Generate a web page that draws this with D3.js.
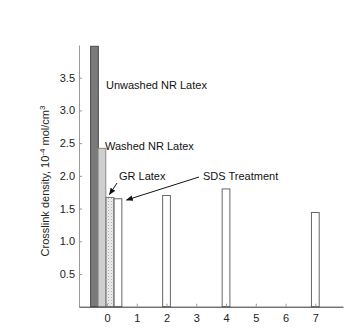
<!DOCTYPE html>
<html><head><meta charset="utf-8">
<script src="https://cdn.jsdelivr.net/npm/d3@7/dist/d3.min.js"></script>
<style>body{margin:0;background:#fff}svg{display:block}text{font-family:"Liberation Sans",Arial,sans-serif}</style>
</head><body><div id="chart"></div>
<script>
const barNames = ["Unwashed NR Latex","Washed NR Latex","GR Latex","SDS 0","SDS 2","SDS 4","SDS 7"];
const barX = [-0.42, -0.17, 0.1, 0.37, 2, 4, 7];
const barValues = [3.98, 2.42, 1.67, 1.65, 1.70, 1.80, 1.44];
const barKinds = ["dark","light","dotted","white","white","white","white"];
const xTicks = [0,1,2,3,4,5,6,7];
const yTicks = [0.5,1.0,1.5,2.0,2.5,3.0,3.5];

const W=356,H=336;
const svg=d3.select("#chart").append("svg").attr("width",W).attr("height",H);
const defs=svg.append("defs");
const pat=defs.append("pattern").attr("id","dots").attr("patternUnits","userSpaceOnUse").attr("width",3).attr("height",3);
pat.append("rect").attr("width",3).attr("height",3).attr("fill","#eeeeee");
pat.append("rect").attr("x",0).attr("y",0).attr("width",1).attr("height",1).attr("fill","#b0b0b0");
pat.append("rect").attr("x",1.5).attr("y",1.5).attr("width",1).attr("height",1).attr("fill","#c8c8c8");

const x=d3.scaleLinear().domain([-0.94,7.93]).range([79,343]);
const y=d3.scaleLinear().domain([0,4]).range([306.7,45]);
const bw=x(0.26)-x(0);

const fills={dark:"#7a7a7a",light:"#cfcfcf",dotted:"url(#dots)",white:"#ffffff"};
const strokes={dark:"#4a4a4a",light:"#888",dotted:"#777",white:"#666"};

svg.selectAll("rect.bar").data(barValues).enter().append("rect").attr("class","bar")
 .attr("x",(d,i)=>x(barX[i])-bw/2).attr("width",bw)
 .attr("y",d=>y(d)).attr("height",d=>y(0)-y(d))
 .attr("fill",(d,i)=>fills[barKinds[i]]).attr("stroke",(d,i)=>strokes[barKinds[i]]).attr("stroke-width",1);

// axes
const ya=svg.append("g").attr("transform","translate(79,0)")
 .call(d3.axisLeft(y).tickValues(yTicks).tickFormat(d3.format(".1f")).tickSizeInner(-3).tickSizeOuter(0).tickPadding(4));
ya.select(".domain").attr("stroke","#999");
ya.selectAll(".tick line").attr("stroke","#999");
ya.selectAll("text").attr("font-size",11).attr("fill","#222");

const xa=svg.append("g").attr("transform","translate(0,306.7)")
 .call(d3.axisBottom(x).tickValues(xTicks).tickFormat(d3.format("d")).tickSizeInner(-3).tickSizeOuter(0).tickPadding(8));
xa.select(".domain").attr("stroke","#333");
xa.selectAll(".tick line").attr("stroke","#999");
xa.selectAll("text").attr("font-size",11).attr("fill","#222");

// y label
const yl=svg.append("text").attr("transform","translate(49,181) rotate(-90)").attr("text-anchor","middle")
 .attr("font-size",11).attr("fill","#222");
yl.append("tspan").text("Crosslink density, 10");
yl.append("tspan").attr("font-size",8).attr("dy",-4).text("-4");
yl.append("tspan").attr("dy",4).text(" mol/cm");
yl.append("tspan").attr("font-size",8).attr("dy",-4).text("3");

// annotations
const ann=svg.append("g").attr("font-size",11).attr("fill","#111");
ann.append("text").attr("x",106).attr("y",89).text(barNames[0]);
ann.append("text").attr("x",105).attr("y",149.5).text(barNames[1]);
ann.append("text").attr("x",119).attr("y",180).text(barNames[2]);
ann.append("text").attr("x",203).attr("y",179.5).text("SDS Treatment");

defs.append("marker").attr("id","ah").attr("viewBox","0 0 10 10").attr("refX",9).attr("refY",5)
 .attr("markerWidth",7).attr("markerHeight",7).attr("orient","auto")
 .append("path").attr("d","M0,1 L10,5 L0,9 Z").attr("fill","#111");
svg.append("line").attr("x1",117).attr("y1",183).attr("x2",109.5).attr("y2",194.5).attr("stroke","#111").attr("stroke-width",1).attr("marker-end","url(#ah)");
svg.append("line").attr("x1",199).attr("y1",177).attr("x2",126.5).attr("y2",200).attr("stroke","#111").attr("stroke-width",1).attr("marker-end","url(#ah)");
</script></body></html>
